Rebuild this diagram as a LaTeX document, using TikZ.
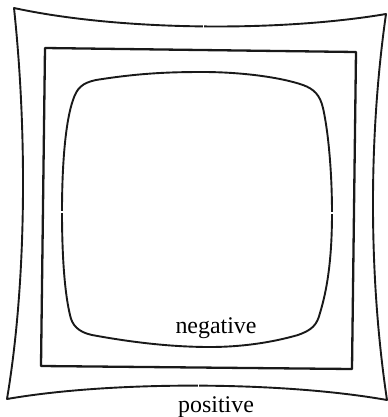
\documentclass[tikz,border=0pt]{standalone}
\usepackage{fontspec}
\setmainfont{Liberation Serif}
\begin{document}
\begin{tikzpicture}[x=1bp, y=-1bp, line join=round,
    every node/.style={font=\fontsize{24}{28}\selectfont},
    outline/.style={draw=black!90, line width=1.9bp},
    notch/.style={draw=white, line width=1.6bp}]
    \useasboundingbox (0,0) rectangle (388,417);
    % outer frame, sides bent inwards
    \coordinate (OA) at (14,8);
    \coordinate (OB) at (386,14);
    \coordinate (OC) at (387,400);
    \coordinate (OD) at (7,399);
    \draw[outline] (OA) .. controls (120,31) and (280,32) .. (OB)
        .. controls (368,140) and (369,280) .. (OC)
        .. controls (280,381) and (110,381) .. (OD)
        .. controls (27,280) and (27,130) .. cycle;
    % square
    \coordinate (SA) at (45,48);
    \coordinate (SB) at (356,52);
    \coordinate (SC) at (352,369);
    \coordinate (SD) at (41,366);
    \draw[outline, line width=2.3bp] (SA) -- (SB) -- (SC) -- (SD) -- cycle;
    % inner frame, sides bent outwards
    \draw[outline] (62,212) .. controls (62,160) and (66,120) .. (73,100)
        .. controls (77,88) and (82,83) .. (96,80)
        .. controls (140,73) and (170,72) .. (203,72)
        .. controls (240,72) and (280,77) .. (303,85)
        .. controls (314,89) and (320,95) .. (323,108)
        .. controls (328,130) and (332,170) .. (332,213)
        .. controls (332,260) and (327,290) .. (320,313)
        .. controls (317,325) and (312,330) .. (298,335)
        .. controls (270,343) and (240,347) .. (210,347)
        .. controls (170,347) and (130,342) .. (92,335)
        .. controls (78,332) and (72,325) .. (70,315)
        .. controls (64,290) and (62,250) .. cycle;
    % small breaks in the lines
    \draw[notch] (203.5,22) -- (203.5,33);
    \draw[notch] (198.5,380) -- (198.5,392);
    \draw[notch] (57,212) -- (67,212);
    \draw[notch] (327,213) -- (337,213);
    \node[anchor=base] (neg) at (216,333) {negative};
    \node[anchor=base] (pos) at (216,412) {positive};
\end{tikzpicture}
\end{document}
